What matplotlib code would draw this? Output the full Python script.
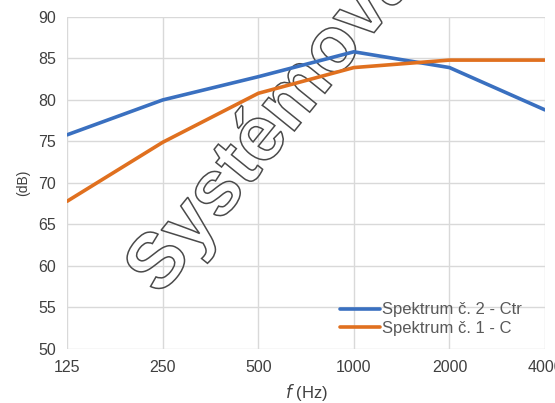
import matplotlib
matplotlib.use('Agg')
import matplotlib.pyplot as plt
from matplotlib.textpath import TextPath
from matplotlib.patches import PathPatch
from matplotlib.font_manager import FontProperties
import matplotlib.transforms as mtransforms

plt.rcParams['font.family'] = ['Liberation Sans', 'DejaVu Sans']

freqs = [125, 250, 500, 1000, 2000, 4000]
freq_labels = ['125', '250', '500', '1000', '2000', '4000']
ctr = [75.8, 80.0, 82.8, 85.8, 83.9, 78.8]     # Spektrum č. 2 - Ctr
c = [67.8, 74.9, 80.8, 83.9, 84.8, 84.8]       # Spektrum č. 1 - C

fig = plt.figure(figsize=(5.55, 4.03), dpi=100)
ax = fig.add_axes([0.121, 0.134, 0.861, 0.824])

# watermark outline (drawn in pixel coords, behind the lines)
tp = TextPath((0, 0), 'Systémová', size=78,
              prop=FontProperties(family='Liberation Sans', weight='bold'))
tr = mtransforms.Affine2D().rotate_deg(51).translate(160, 403 - 297)
wm = PathPatch(tr.transform_path(tp), facecolor='none', edgecolor='#4a4a4a', lw=1.1)
wm.set_transform(mtransforms.IdentityTransform())
wm.set_zorder(1.5)
wm.set_clip_on(False)
ax.add_artist(wm)

ax.plot(freqs, ctr, color='#3a70c0', lw=2.6, label='Spektrum č. 2 - Ctr', solid_capstyle='round', zorder=3)
ax.plot(freqs, c, color='#e0701f', lw=2.6, label='Spektrum č. 1 - C', solid_capstyle='round', zorder=3)

ax.set_xscale('log', base=2)
ax.set_xlim(125, 4000)
ax.set_ylim(50, 90)
ax.set_xticks(freqs)
ax.set_xticklabels(freq_labels)
ax.minorticks_off()
ax.set_yticks(range(50, 91, 5))
ax.grid(True, color='#d9d9d9', lw=1)
ax.set_axisbelow(True)
for s in ax.spines.values():
    s.set_visible(False)
ax.tick_params(length=0, labelsize=11.5, colors='#404040', pad=8)

ax.set_ylabel('(dB)', fontsize=10, color='#404040', labelpad=6)
ax.set_xlabel('$\\it{f}$ (Hz)', fontsize=12, color='#404040', labelpad=5)

leg = ax.legend(loc='lower right', frameon=False, fontsize=12, handlelength=2.4,
                handletextpad=0.1, labelspacing=0.2, borderaxespad=0, borderpad=0.2,
                bbox_to_anchor=(0.958, 0.03))
for t in leg.get_texts():
    t.set_color('#595959')

fig.savefig('out.png', dpi=100)
